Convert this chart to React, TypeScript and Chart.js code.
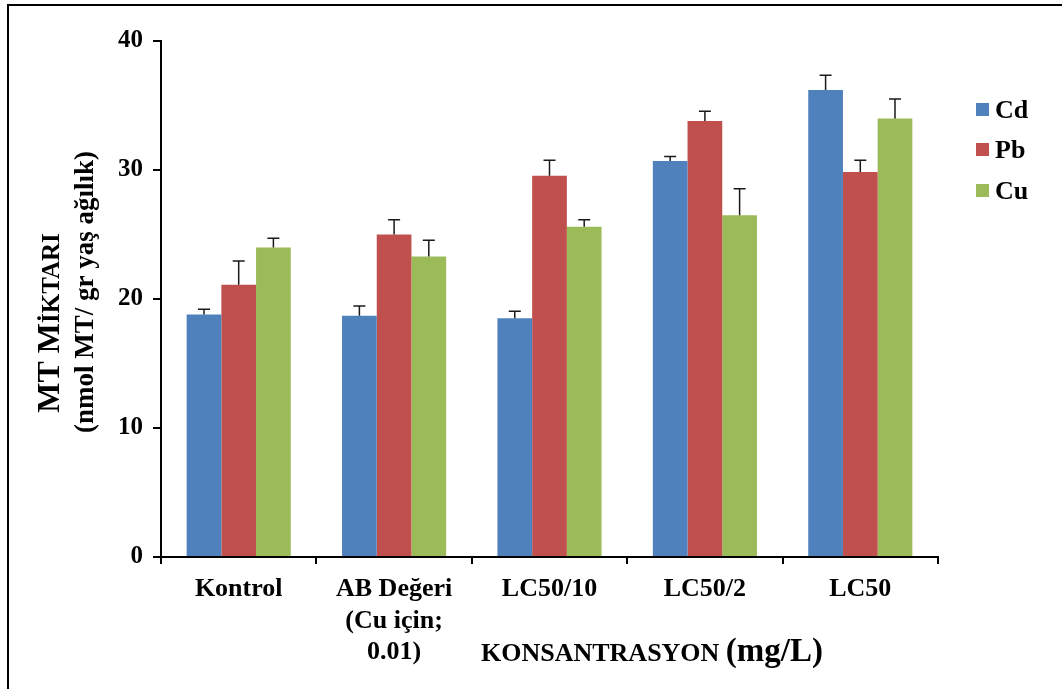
import React, { useEffect, useRef } from "react";
import { Chart, registerables } from "chart.js";

Chart.register(...registerables);

const categories: (string | string[])[] = [
  "Kontrol",
  ["AB Değeri", "(Cu için;", "0.01)"],
  "LC50/10",
  "LC50/2",
  "LC50",
];
const seriesNames = ["Cd", "Pb", "Cu"];
const cdValues = [18.8, 18.7, 18.5, 30.7, 36.2];
const pbValues = [21.1, 25.0, 29.55, 33.8, 29.85];
const cuValues = [24.0, 23.3, 25.6, 26.5, 34.0];
const cdErrors = [0.4, 0.75, 0.55, 0.35, 1.15];
const pbErrors = [1.85, 1.15, 1.2, 0.75, 0.9];
const cuErrors = [0.7, 1.25, 0.55, 2.05, 1.5];
const seriesColors = ["#4F81BD", "#C0504D", "#9BBB59"];
const yTicks = [0, 10, 20, 30, 40];
const yTitleLine1: [string, number][] = [["MT M", 32], ["İKTARI", 25]];
const yTitleLine2 = "(nmol MT/ gr yaş ağılık)";
const xTitleParts: [string, number][] = [["KONSANTRASYON ", 26], ["(mg/L)", 33]];

const FONT = "'Liberation Serif', 'Times New Roman', serif";

function drawParts(ctx: CanvasRenderingContext2D, parts: [string, number][], x: number, y: number, align: "left" | "center") {
  let total = 0;
  const widths = parts.map(([t, s]) => {
    ctx.font = `bold ${s}px ${FONT}`;
    const w = ctx.measureText(t).width;
    total += w;
    return w;
  });
  let cx = align === "center" ? x - total / 2 : x;
  parts.forEach(([t, s], i) => {
    ctx.font = `bold ${s}px ${FONT}`;
    ctx.fillText(t, cx, y);
    cx += widths[i];
  });
}

const errorBarPlugin = {
  id: "errorBars",
  afterDatasetsDraw(chart: any) {
    const ctx = chart.ctx as CanvasRenderingContext2D;
    const yScale = chart.scales.y;
    const errs = [cdErrors, pbErrors, cuErrors];
    ctx.save();
    ctx.strokeStyle = "#1a1a1a";
    ctx.lineWidth = 1.5;
    chart.data.datasets.forEach((ds: any, di: number) => {
      const meta = chart.getDatasetMeta(di);
      meta.data.forEach((bar: any, i: number) => {
        const v = ds.data[i];
        const top = yScale.getPixelForValue(v + errs[di][i]);
        ctx.beginPath();
        ctx.moveTo(bar.x, bar.y);
        ctx.lineTo(bar.x, top);
        ctx.moveTo(bar.x - 6, top);
        ctx.lineTo(bar.x + 6, top);
        ctx.stroke();
      });
    });
    ctx.restore();
  },
};

const decorPlugin = {
  id: "decor",
  afterDraw(chart: any) {
    const ctx = chart.ctx as CanvasRenderingContext2D;
    ctx.save();
    ctx.fillStyle = "#000";
    ctx.fillRect(7, 4, 1062 - 7, 2);
    ctx.fillRect(7, 4, 2, 689 - 4);

    ctx.textBaseline = "alphabetic";
    ctx.save();
    ctx.translate(59, 323);
    ctx.rotate(-Math.PI / 2);
    drawParts(ctx, yTitleLine1, 0, 0, "center");
    ctx.restore();
    ctx.save();
    ctx.translate(93, 292);
    ctx.rotate(-Math.PI / 2);
    drawParts(ctx, [[yTitleLine2, 27]], 0, 0, "center");
    ctx.restore();

    drawParts(ctx, xTitleParts, 481, 661, "left");

    const ly = [110, 150, 191];
    seriesNames.forEach((n, i) => {
      ctx.fillStyle = seriesColors[i];
      ctx.fillRect(976, ly[i] - 7, 13, 13);
      ctx.fillStyle = "#000";
      ctx.font = `bold 26px ${FONT}`;
      ctx.textBaseline = "middle";
      ctx.fillText(n, 995, ly[i] + 1);
    });
    ctx.restore();
  },
};

export default function App() {
  const ref = useRef<HTMLCanvasElement>(null);
  useEffect(() => {
    document.body.style.margin = "0";
    const canvas = ref.current!;
    const chart = new Chart(canvas, {
      type: "bar",
      data: {
        labels: categories as any,
        datasets: [
          { label: seriesNames[0], data: cdValues, backgroundColor: seriesColors[0] },
          { label: seriesNames[1], data: pbValues, backgroundColor: seriesColors[1] },
          { label: seriesNames[2], data: cuValues, backgroundColor: seriesColors[2] },
        ],
      },
      options: {
        responsive: false,
        devicePixelRatio: 1,
        animation: false,
        layout: { padding: { left: 0, right: 124, top: 41, bottom: 0 } },
        datasets: { bar: { categoryPercentage: 0.67, barPercentage: 1.0 } },
        plugins: { legend: { display: false }, tooltip: { enabled: false } },
        scales: {
          x: {
            grid: { display: true, drawOnChartArea: false, color: "#000", lineWidth: 2, tickLength: 7, offset: true },
            border: { display: true, color: "#000", width: 2 },
            ticks: {
              color: "#000",
              font: { family: FONT, size: 26, weight: "bold", lineHeight: 1.2 },
              padding: 10,
              maxRotation: 0,
              autoSkip: false,
            },
            afterFit: (s: any) => { s.height = 689 - 557; },
          },
          y: {
            min: 0,
            max: 40,
            afterBuildTicks: (s: any) => { s.ticks = yTicks.map((v) => ({ value: v })); },
            grid: { display: true, drawOnChartArea: false, color: "#000", lineWidth: 2, tickLength: 8 },
            border: { display: true, color: "#000", width: 2 },
            ticks: {
              color: "#000",
              font: { family: FONT, size: 25, weight: "bold" },
              padding: 10,
            },
            afterFit: (s: any) => { s.width = 161; },
          },
        },
      },
      plugins: [errorBarPlugin, decorPlugin],
    });
    return () => chart.destroy();
  }, []);
  return <canvas ref={ref} width={1062} height={689} style={{ display: "block", width: 1062, height: 689 }} />;
}
